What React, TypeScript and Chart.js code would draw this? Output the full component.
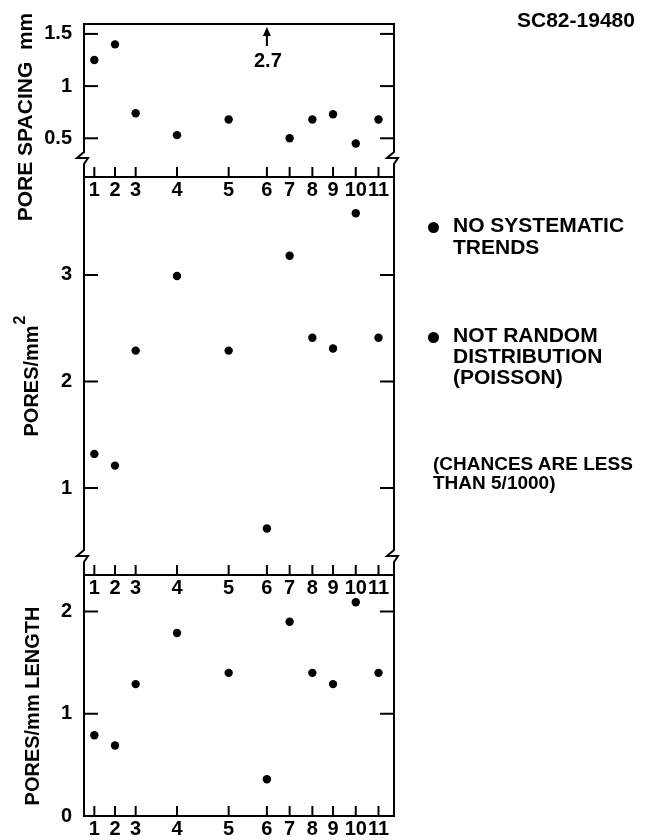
import React, { useEffect, useRef } from "react";
import { Chart, registerables } from "chart.js";

Chart.register(...registerables);

// ---- data ----
const sampleLabels = ["1", "2", "3", "4", "5", "6", "7", "8", "9", "10", "11"];
const samplePositions = [0.5, 1.5, 2.5, 4.5, 7.0, 8.85, 9.95, 11.05, 12.05, 13.15, 14.25];
const poreSpacing = [1.25, 1.4, 0.74, 0.53, 0.68, 2.7, 0.5, 0.68, 0.73, 0.45, 0.68];
const poresPerArea = [1.32, 1.21, 2.29, 2.99, 2.29, 0.62, 3.18, 2.41, 2.31, 3.58, 2.41];
const poresPerLength = [0.79, 0.69, 1.29, 1.79, 1.4, 0.36, 1.9, 1.4, 1.29, 2.09, 1.4];
const spacingTicks = [0.5, 1, 1.5];
const areaTicks = [1, 2, 3];
const lengthTicks = [0, 1, 2];

const FONT = '"Liberation Sans", Arial, sans-serif';
const W = 655;
const H = 840;
const PLOT_LEFT = 84;
const PLOT_RIGHT = 394;

type PanelSpec = {
  top: number;
  bottom: number;
  min: number;
  max: number;
  ticks: number[];
  values: number[];
  brk: boolean;
  title: string;
  sup?: string;
  titleX: number;
  titleY: number;
  titleSize: number;
};

const panels: PanelSpec[] = [
  {
    top: 23, bottom: 177, min: 0.129, max: 1.595, ticks: spacingTicks, values: poreSpacing,
    brk: true, title: "PORE SPACING  mm", titleX: 24, titleY: 117, titleSize: 21,
  },
  {
    top: 177, bottom: 575, min: 0.183, max: 3.92, ticks: areaTicks, values: poresPerArea,
    brk: true, title: "PORES/mm", sup: "2", titleX: 30.5, titleY: 376, titleSize: 20,
  },
  {
    top: 575, bottom: 819, min: 0, max: 2.357, ticks: lengthTicks, values: poresPerLength,
    brk: false, title: "PORES/mm LENGTH", titleX: 32, titleY: 706, titleSize: 20,
  },
];

function makeFramePlugin(spec: PanelSpec) {
  return {
    id: "frameAndDecor",
    beforeDatasetsDraw(chart: any) {
      const { ctx, chartArea, scales } = chart;
      const { left, right, top, bottom } = chartArea;
      const x = scales.x;
      const y = scales.y;
      ctx.save();
      ctx.strokeStyle = "#000";
      ctx.lineWidth = 2;
      ctx.lineCap = "butt";
      const line = (x1: number, y1: number, x2: number, y2: number) => {
        ctx.beginPath();
        ctx.moveTo(x1, y1);
        ctx.lineTo(x2, y2);
        ctx.stroke();
      };
      line(left - 1, top, right + 1, top);
      line(left - 1, bottom, right + 1, bottom);
      const by = bottom - 19;
      for (const X of [left, right]) {
        if (spec.brk) {
          ctx.beginPath();
          ctx.moveTo(X, top);
          ctx.lineTo(X, by - 6);
          ctx.lineTo(X - 7, by);
          ctx.lineTo(X + 4, by);
          ctx.lineTo(X, by + 6);
          ctx.lineTo(X, bottom);
          ctx.stroke();
        } else {
          line(X, top, X, bottom);
        }
      }
      // inward y ticks on both sides
      y.ticks.forEach((t: any) => {
        const py = y.getPixelForValue(t.value);
        line(left, py, left + 14, py);
        line(right, py, right - 14, py);
      });
      // upward x ticks
      x.ticks.forEach((t: any) => {
        const px = x.getPixelForValue(t.value);
        line(px, bottom, px, bottom - 10);
      });
      // axis title (rotated)
      ctx.fillStyle = "#000";
      ctx.translate(spec.titleX, spec.titleY);
      ctx.rotate(-Math.PI / 2);
      const mainFont = `bold ${spec.titleSize}px ${FONT}`;
      const supFont = `bold 16px ${FONT}`;
      ctx.font = mainFont;
      const mainW = ctx.measureText(spec.title).width;
      let supW = 0;
      if (spec.sup) {
        ctx.font = supFont;
        supW = ctx.measureText(spec.sup).width + 1;
      }
      const start = -(mainW + supW) / 2;
      const cap = spec.titleSize * 0.716;
      ctx.textAlign = "left";
      ctx.textBaseline = "alphabetic";
      ctx.font = mainFont;
      ctx.fillText(spec.title, start, cap / 2);
      if (spec.sup) {
        ctx.font = supFont;
        ctx.fillText(spec.sup, start + mainW + 1, cap / 2 - 13);
      }
      ctx.restore();
    },
    afterDatasetsDraw(chart: any) {
      const { ctx, chartArea, scales } = chart;
      const x = scales.x;
      const y = scales.y;
      ctx.save();
      ctx.fillStyle = "#000";
      ctx.strokeStyle = "#000";
      ctx.lineWidth = 2;
      spec.values.forEach((v, i) => {
        if (v > y.max) {
          const px = x.getPixelForValue(samplePositions[i]);
          const t = chartArea.top;
          ctx.beginPath();
          ctx.moveTo(px, t + 22);
          ctx.lineTo(px, t + 9);
          ctx.stroke();
          ctx.beginPath();
          ctx.moveTo(px, t + 3);
          ctx.lineTo(px - 4, t + 12);
          ctx.lineTo(px + 4, t + 12);
          ctx.closePath();
          ctx.fill();
          ctx.font = `bold 20px ${FONT}`;
          ctx.textAlign = "center";
          ctx.textBaseline = "middle";
          ctx.fillText(String(v), px + 1, t + 37);
        }
      });
      ctx.restore();
    },
  };
}

function Panel({ spec }: { spec: PanelSpec }) {
  const ref = useRef<HTMLCanvasElement | null>(null);
  useEffect(() => {
    if (!ref.current) return;
    const tickFont = { family: FONT, size: 20, weight: "bold" as const };
    const chart = new Chart(ref.current, {
      type: "scatter",
      data: {
        datasets: [
          {
            data: samplePositions.map((xv, i) => ({ x: xv, y: spec.values[i] })),
            pointRadius: 4.2,
            pointBackgroundColor: "#000",
            pointBorderWidth: 0,
            showLine: false,
          },
        ],
      },
      options: {
        animation: false,
        responsive: false,
        devicePixelRatio: 1,
        events: [],
        layout: { padding: { top: spec.top, left: 0, right: W - PLOT_RIGHT, bottom: 0 } },
        plugins: { legend: { display: false }, tooltip: { enabled: false } },
        scales: {
          x: {
            type: "linear",
            bounds: "data",
            min: 0,
            max: 15,
            grid: { display: false, drawTicks: false },
            border: { display: false },
            afterBuildTicks: (s: any) => {
              s.ticks = samplePositions.map((v) => ({ value: v }));
            },
            ticks: {
              autoSkip: false,
              maxRotation: 0,
              padding: 1,
              color: "#000",
              font: tickFont,
              callback: (_v: any, i: number) => sampleLabels[i],
            },
            afterFit: (s: any) => {
              s.height = H - spec.bottom;
            },
          },
          y: {
            type: "linear",
            bounds: "data",
            min: spec.min,
            max: spec.max,
            grid: { display: false, drawTicks: false },
            border: { display: false },
            afterBuildTicks: (s: any) => {
              s.ticks = spec.ticks.map((v) => ({ value: v }));
            },
            ticks: {
              padding: 12,
              color: "#000",
              font: tickFont,
              callback: (v: any) => String(v),
            },
            afterFit: (s: any) => {
              s.width = PLOT_LEFT;
            },
          },
        },
      } as any,
      plugins: [makeFramePlugin(spec)],
    });
    return () => chart.destroy();
  }, [spec]);
  return (
    <canvas
      ref={ref}
      width={W}
      height={H}
      style={{ position: "absolute", left: 0, top: 0, width: W, height: H }}
    />
  );
}

const dot: React.CSSProperties = {
  position: "absolute",
  width: 11,
  height: 11,
  borderRadius: "50%",
  background: "#000",
};

export default function App() {
  return (
    <div
      style={{
        position: "absolute",
        left: 0,
        top: 0,
        width: W,
        height: H,
        background: "#fff",
        overflow: "hidden",
        fontFamily: FONT,
        fontWeight: "bold",
        color: "#000",
      }}
    >
      {panels.map((p, i) => (
        <Panel key={i} spec={p} />
      ))}
      <div style={{ position: "absolute", left: 517, top: 9, fontSize: 21, lineHeight: "21px" }}>
        SC82-19480
      </div>
      <div style={{ ...dot, left: 428, top: 222 }} />
      <div style={{ position: "absolute", left: 453, top: 214, fontSize: 21, lineHeight: "22px", whiteSpace: "pre" }}>
        {"NO SYSTEMATIC\nTRENDS"}
      </div>
      <div style={{ ...dot, left: 428, top: 332 }} />
      <div style={{ position: "absolute", left: 453, top: 324, fontSize: 21, lineHeight: "21px", whiteSpace: "pre" }}>
        {"NOT RANDOM\nDISTRIBUTION\n(POISSON)"}
      </div>
      <div style={{ position: "absolute", left: 433, top: 454, fontSize: 19, lineHeight: "19px", whiteSpace: "pre" }}>
        {"(CHANCES ARE LESS\nTHAN 5/1000)"}
      </div>
    </div>
  );
}
